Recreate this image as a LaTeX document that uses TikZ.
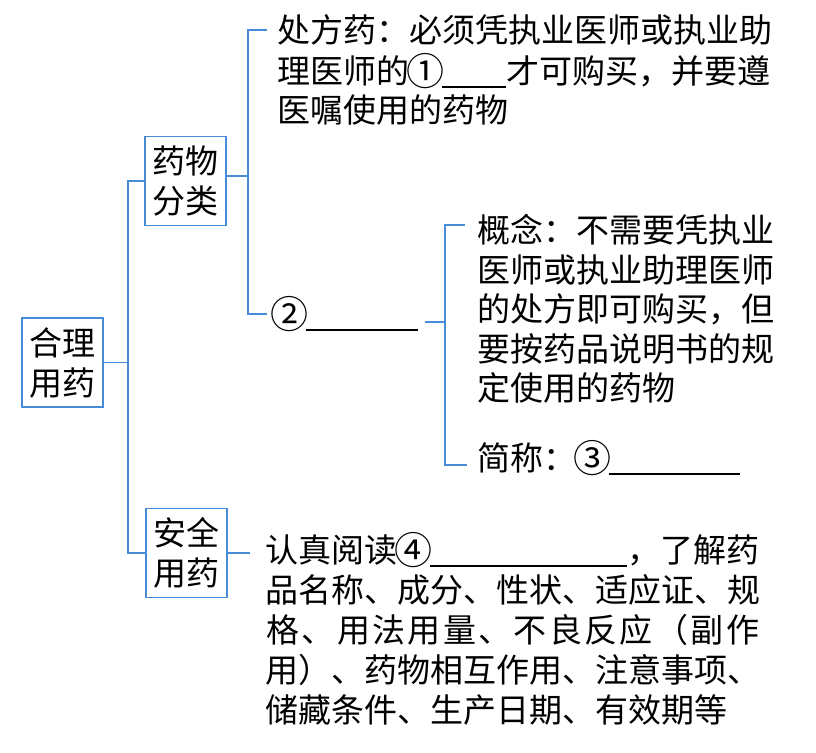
\documentclass[tikz,border=0pt]{standalone}
\usepackage{fontspec}
\usetikzlibrary{calc}
\newfontfamily\cjk{Noto Sans CJK SC}
\definecolor{lineblue}{RGB}{72,140,215}
\makeatletter
\newcommand\spreadchars[2]{\@tfor\sp@ch:=#2\do{\makebox[#1]{\sp@ch}}}
\makeatother
\newcommand\blank[1]{\rule[-4pt]{#1}{1.6pt}}
\newcommand\cnum[1]{\makebox[33pt]{\fontsize{38}{40}\selectfont\raisebox{-1.5pt}{#1}}}
\tikzset{
  box/.style={draw=lineblue, line width=1.8pt, minimum width=81pt, minimum height=89pt,
    inner sep=0pt, align=center, font=\cjk\fontsize{33}{40}\selectfont},
  txt/.style={anchor=west, inner sep=0pt, font=\cjk\fontsize{33}{40}\selectfont},
  conn/.style={draw=lineblue, line width=1.8pt}
}
\begin{document}
\begin{tikzpicture}[x=1pt,y=-1pt]
\useasboundingbox (0,0) rectangle (816,752);
% boxes
\node[box] (root) at (62.5,362.5) {合理\\用药};
\node[box] (cls) at (185.5,181) {药物\\分类};
\node[box] (safe) at (186.5,553) {安全\\用药};
% prescription text
\node[txt] (rx1) at (277,30) {处方药：必须凭执业医师或执业助};
\node[txt] (rx2) at (277,71) {理医师的\cnum{①}\blank{64pt}才可购买，并要遵};
\node[txt] (rx3) at (277,110) {医嘱使用的药物};
% OTC
\node[txt] (otc) at (273,314) {\cnum{②}\blank{112pt}};
\node[txt] (c1) at (477,230) {概念：不需要凭执业};
\node[txt] (c2) at (477,270) {医师或执业助理医师};
\node[txt] (c3) at (477,309) {的处方即可购买，但};
\node[txt] (c4) at (477,349) {要按药品说明书的规};
\node[txt] (c5) at (477,388) {定使用的药物};
\node[txt] (abbr) at (477,458) {简称：\cnum{③}\blank{131pt}};
% safe use
\node[txt] (s1) at (265,550) {认真阅读\cnum{④}\blank{197pt}，了解药};
\node[txt] (s2) at (265,590) {品名称、成分、性状、适应证、规};
\node[txt] (s3) at (265,630) {\spreadchars{35.36pt}{格、用法用量、不良反应（副作}};
\node[txt] (s4) at (265,670) {用）、药物相互作用、注意事项、};
\node[txt] (s5) at (265,710) {储藏条件、生产日期、有效期等};
% connectors
\coordinate (tk1) at (128,181);
\coordinate (tk2) at (128,553);
\draw[conn] (root.east) -- (root.east -| tk1);
\draw[conn] (cls.west) -- (tk1) -- (tk2) -- (safe.west);
\coordinate (b1) at (248,176);
\draw[conn] (cls.east |- b1) -- (b1);
\draw[conn] ($(rx1.west)+(-10,0)$) -| (b1) |- ($(otc.west)+(-6,0)$);
\coordinate (b2) at (445,322);
\draw[conn] ($(otc.east)+(7,8)$) -- (b2);
\draw[conn] ($(c1.west)+(-12,-5)$) -| (b2) |- ($(abbr.west)+(-10,7)$);
\draw[conn] (safe.east) -- ($(safe.east)+(22,0)$);
\end{tikzpicture}
\end{document}
